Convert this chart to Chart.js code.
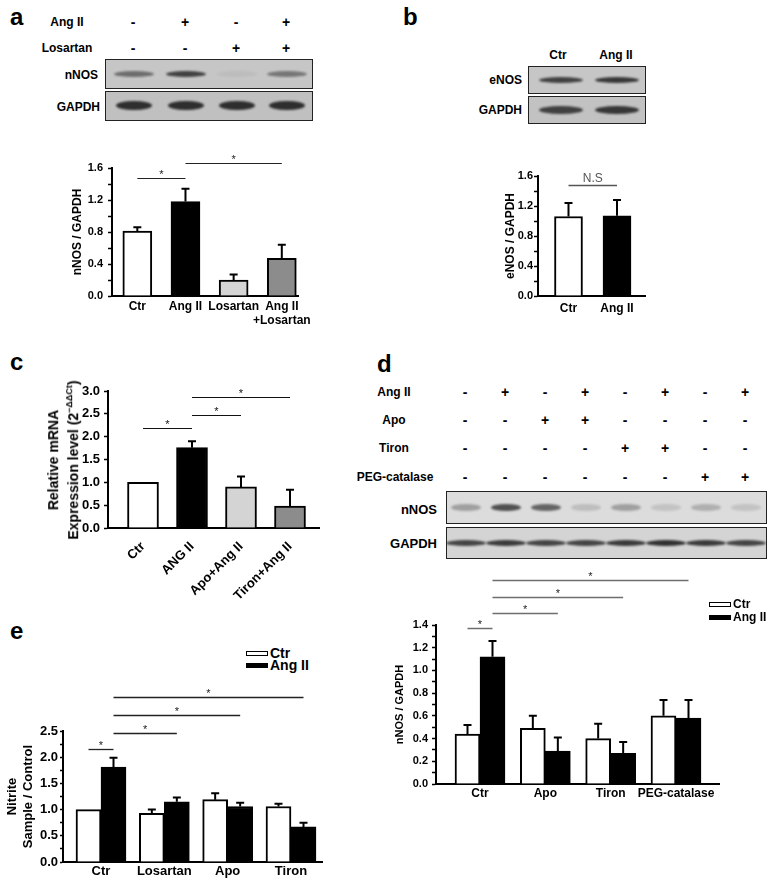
<!DOCTYPE html>
<html>
<head>
<meta charset="utf-8">
<script src="https://cdn.jsdelivr.net/npm/chart.js@4.4.0/dist/chart.umd.min.js"></script>
<style>
  body { margin: 0; width: 776px; height: 886px; position: relative; overflow: hidden; background: #fff;
         font-family: 'Liberation Sans', Arial, sans-serif; font-weight: bold; color: #000; }
  .txt { position: absolute; white-space: nowrap; line-height: 1; }
  .blot { position: absolute; box-sizing: border-box; border: 1.5px solid #222; overflow: hidden; }
  .band { position: absolute; border-radius: 50%; filter: blur(1.3px); }
  canvas { position: absolute; }
  .key { position: absolute; box-sizing: border-box; border: 1.2px solid #000; }
</style>
</head>
<body>
<script>
// ---- panel a ----
const aLabels = ['Ctr', 'Ang II', 'Losartan', ['Ang II', '+Losartan']];
const aValues = [0.81, 1.18, 0.2, 0.47];
const aErrors = [0.86, 1.34, 0.27, 0.64];
const aAngII = ['-', '+', '-', '+'];
const aLosartan = ['-', '-', '+', '+'];
const aNnosBands = [0.5, 0.75, 0.05, 0.45];
const aGapdhBands = [0.85, 0.85, 0.85, 0.85];

// ---- panel b ----
const bLabels = ['Ctr', 'Ang II'];
const bValues = [1.06, 1.07];
const bErrors = [1.24, 1.28];
const bEnosBands = [0.75, 0.8];
const bGapdhBands = [0.75, 0.8];

// ---- panel c ----
const cLabels = ['Ctr', 'ANG II', 'Apo+Ang II', 'Tiron+Ang II'];
const cValues = [1.0, 1.76, 0.9, 0.48];
const cErrors = [null, 1.9, 1.13, 0.84];

// ---- panel d ----
const dGroups = ['Ctr', 'Apo', 'Tiron', 'PEG-catalase'];
const dCtr = [0.44, 0.49, 0.40, 0.60];
const dCtrErr = [0.52, 0.60, 0.53, 0.74];
const dAng = [1.12, 0.29, 0.27, 0.58];
const dAngErr = [1.26, 0.41, 0.37, 0.74];
const dAngII = ['-', '+', '-', '+', '-', '+', '-', '+'];
const dApo = ['-', '-', '+', '+', '-', '-', '-', '-'];
const dTiron = ['-', '-', '-', '-', '+', '+', '-', '-'];
const dPeg = ['-', '-', '-', '-', '-', '-', '+', '+'];
const dNnosBands = [0.3, 0.7, 0.6, 0.15, 0.3, 0.12, 0.22, 0.12];
const dGapdhBands = [0.75, 0.8, 0.75, 0.75, 0.8, 0.85, 0.8, 0.75];

// ---- panel e ----
const eGroups = ['Ctr', 'Losartan', 'Apo', 'Tiron'];
const eCtr = [1.0, 0.93, 1.19, 1.06];
const eCtrErr = [null, 1.0, 1.31, 1.11];
const eAng = [1.81, 1.15, 1.06, 0.67];
const eAngErr = [1.99, 1.23, 1.13, 0.75];

const FONT = "'Liberation Sans', Arial, sans-serif";
Chart.defaults.font.family = FONT;
Chart.defaults.font.weight = 'bold';
Chart.defaults.color = '#000';

// Texto posicionado em px
function label(html, x, y, size, align = 'center', extra = '') {
  const el = document.createElement('div');
  el.className = 'txt';
  el.innerHTML = html;
  const tx = align === 'center' ? '-50%' : align === 'right' ? '-100%' : '0';
  el.style.cssText = `left:${x}px;top:${y}px;font-size:${size}px;transform:translate(${tx},-50%);${extra}`;
  document.body.appendChild(el);
  return el;
}

// Caixa de western blot com bandas
function blot(x, y, w, h, bg, lanes, bands, bw, bh) {
  const el = document.createElement('div');
  el.className = 'blot';
  el.style.cssText = `left:${x}px;top:${y}px;width:${w}px;height:${h}px;background:${bg}`;
  bands.forEach((v, i) => {
    const b = document.createElement('div');
    b.className = 'band';
    b.style.cssText = `left:${lanes[i] - x - bw / 2}px;top:${(h - bh) / 2 - 1.5}px;width:${bw}px;height:${bh}px;background:rgba(20,20,20,${v})`;
    el.appendChild(b);
  });
  document.body.appendChild(el);
}

function signRow(signs, cols, y, size) {
  signs.forEach((s, i) => label(s, cols[i], y, size));
}

// Barras de erro (só para cima)
const errorBars = {
  id: 'errorBars',
  afterDatasetsDraw(chart) {
    const { ctx } = chart;
    const y = chart.scales.y;
    ctx.save();
    ctx.strokeStyle = '#000';
    ctx.lineWidth = 2;
    chart.data.datasets.forEach((ds, di) => {
      chart.getDatasetMeta(di).data.forEach((bar, i) => {
        const e = ds.errors[i];
        if (e == null) return;
        const top = y.getPixelForValue(e);
        ctx.beginPath();
        ctx.moveTo(bar.x, bar.y);
        ctx.lineTo(bar.x, top);
        ctx.moveTo(bar.x - 4, top);
        ctx.lineTo(bar.x + 4, top);
        ctx.stroke();
      });
    });
    ctx.restore();
  }
};

// Linhas de significância entre barras
const brackets = {
  id: 'brackets',
  afterDraw(chart, args, opts) {
    const { ctx } = chart;
    const y = chart.scales.y;
    ctx.save();
    (opts.list || []).forEach(([d1, i1, d2, i2, level, mark]) => {
      const x1 = chart.getDatasetMeta(d1).data[i1].x;
      const x2 = chart.getDatasetMeta(d2).data[i2].x;
      const py = Math.round(y.getPixelForValue(level)) + 0.5;
      ctx.strokeStyle = opts.color;
      ctx.lineWidth = opts.width;
      ctx.beginPath();
      ctx.moveTo(x1, py);
      ctx.lineTo(x2, py);
      ctx.stroke();
      ctx.fillStyle = opts.textColor || opts.color;
      ctx.font = `normal ${opts.size}px ${FONT}`;
      ctx.textAlign = 'center';
      ctx.textBaseline = 'alphabetic';
      ctx.fillText(mark, (x1 + x2) / 2, py - opts.gap);
    });
    ctx.restore();
  }
};

function drawBars(p) {
  const cv = document.createElement('canvas');
  const [bx, by, bw, bh] = p.box;
  cv.width = bw; cv.height = bh;
  cv.style.left = bx + 'px'; cv.style.top = by + 'px';
  document.body.appendChild(cv);
  const [left, top, right, bottom] = p.area;
  const n = p.labels.length;
  const unit = (p.last - p.first) / (n - 1);
  return new Chart(cv, {
    type: 'bar',
    data: {
      datasets: p.series.map(s => ({
        label: s.label,
        data: s.values.map((v, i) => ({ x: i, y: v })),
        errors: s.errors,
        backgroundColor: s.color,
        borderColor: '#000',
        borderWidth: 2,
        barThickness: p.barWidth
      }))
    },
    options: {
      responsive: false,
      animation: false,
      layout: { padding: { left: 0, top: top - by, right: bx + bw - right, bottom: 0 } },
      plugins: {
        legend: { display: false },
        tooltip: { enabled: false },
        brackets: p.brackets
      },
      scales: {
        x: {
          type: 'linear',
          offset: false,
          min: -(p.first - left) / unit,
          max: n - 1 + (right - p.last) / unit,
          afterBuildTicks: s => { s.ticks = p.labels.map((_, i) => ({ value: i })); },
          afterFit: s => { s.height = by + bh - bottom; },
          grid: { display: false, drawTicks: false },
          border: { color: '#000', width: 2 },
          ticks: {
            autoSkip: false,
            maxRotation: p.rotate || 0,
            minRotation: p.rotate || 0,
            padding: p.xPad,
            font: { size: p.xFont, weight: 'bold' },
            callback: v => p.labels[Math.round(v)]
          }
        },
        y: {
          min: 0,
          max: p.yMax,
          afterFit: s => { s.width = left - bx; },
          grid: { drawOnChartArea: false, tickLength: p.tickLen, tickWidth: 1.5, tickColor: '#000' },
          border: { color: '#000', width: 2 },
          ticks: {
            stepSize: p.yStep,
            maxTicksLimit: 100,
            autoSkip: false,
            padding: p.yPad,
            font: { size: p.yFont, weight: 'bold' },
            callback: p.yLabel
          },
          title: p.yTitle
            ? { display: true, text: p.yTitle, font: { size: p.titleFont, weight: 'bold' }, padding: { top: p.titlePad, bottom: 0 } }
            : { display: false }
        }
      }
    },
    plugins: [errorBars, brackets]
  });
}

function legend(series, x, y, gap, size) {
  series.forEach((s, i) => {
    const k = document.createElement('div');
    k.className = 'key';
    k.style.cssText = `left:${x}px;top:${y + i * gap - 2.5}px;width:22px;height:5px;background:${s.color}`;
    document.body.appendChild(k);
    label(s.label, x + 24, y + i * gap, size, 'left');
  });
}

const every = (step) => v => (Math.round(v * 100) % Math.round(step * 100) === 0 ? v.toFixed(1) : '');

// ================= panel a =================
label('a', 10, 17, 24, 'left');
label('Ang II', 67, 22, 12);
label('Losartan', 67, 48, 12);
const aCols = [133, 185, 236, 286];
signRow(aAngII, aCols, 22, 14);
signRow(aLosartan, aCols, 48, 14);
label('nNOS', 98, 75, 12, 'right');
label('GAPDH', 100, 107, 12, 'right');
blot(105, 59, 208, 30, '#c6c6c6', aCols, aNnosBands, 40, 6);
blot(105, 91, 208, 30, '#c0c0c0', aCols, aGapdhBands, 36, 9);

drawBars({
  box: [40, 140, 275, 205], area: [112, 168, 300, 296],
  labels: aLabels, first: 137.5, last: 283, barWidth: 29,
  series: [{ label: 'nNOS', values: aValues, errors: aErrors, color: ['#ffffff', '#000000', '#d4d4d4', '#8c8c8c'] }],
  yMax: 1.6, yStep: 0.2, yLabel: every(0.4), yFont: 11, yPad: 5, tickLen: 4,
  xFont: 12, xPad: 3,
  yTitle: 'nNOS / GAPDH', titleFont: 12, titlePad: 30,
  brackets: { list: [[0, 0, 0, 1, 1.475, '*'], [0, 1, 0, 3, 1.66, '*']], color: '#222', width: 1.2, size: 11, gap: 1 }
});

// ================= panel b =================
label('b', 403, 17, 24, 'left');
const bCols = [560, 616];
label('Ctr', 558, 55, 12);
label('Ang II', 616, 55, 12);
label('eNOS', 522, 80, 12, 'right');
label('GAPDH', 522, 110, 12, 'right');
blot(528, 66, 118, 28, '#c6c6c6', bCols, bEnosBands, 44, 6);
blot(528, 96, 118, 28, '#c2c2c2', bCols, bGapdhBands, 44, 8);

drawBars({
  box: [470, 150, 190, 200], area: [538, 176, 645, 296],
  labels: bLabels, first: 568.5, last: 617, barWidth: 28,
  series: [{ label: 'eNOS', values: bValues, errors: bErrors, color: ['#ffffff', '#000000'] }],
  yMax: 1.6, yStep: 0.2, yLabel: every(0.4), yFont: 11, yPad: 1, tickLen: 4,
  xFont: 12, xPad: 5,
  yTitle: 'eNOS / GAPDH', titleFont: 12, titlePad: 33,
  brackets: { list: [[0, 0, 0, 1, 1.48, 'N.S']], color: '#555', width: 1.5, size: 12, gap: 4 }
});

// ================= panel c =================
label('c', 10, 362, 24, 'left');
label('Relative mRNA<br>Expression level (2<sup style="font-size:9px">\u2212\u0394\u0394Ct</sup>)', 63, 460, 14, 'center',
  'line-height:16px;text-align:center;color:#000;will-change:transform;transform:translate(-50%,-50%) rotate(-90deg);');

drawBars({
  box: [70, 370, 260, 230], area: [108, 391, 319, 528],
  labels: cLabels, first: 143, last: 290, barWidth: 31, rotate: 45,
  series: [{ label: 'mRNA', values: cValues, errors: cErrors, color: ['#ffffff', '#000000', '#d4d4d4', '#8c8c8c'] }],
  yMax: 3.0, yStep: 0.5, yLabel: v => v.toFixed(1), yFont: 13, yPad: 4, tickLen: 4,
  xFont: 13, xPad: 11,
  brackets: { list: [[0, 0, 0, 1, 2.19, '*'], [0, 1, 0, 2, 2.48, '*'], [0, 1, 0, 3, 2.87, '*']], color: '#111', width: 1.2, size: 11, gap: 1 }
});

// ================= panel d =================
label('d', 377, 364, 24, 'left');
const dCols = [465, 505, 545, 585, 625, 665, 705, 745];
label('Ang II', 394, 392, 12);
label('Apo', 394, 420, 12);
label('Tiron', 394, 448, 12);
label('PEG-catalase', 395, 477, 12);
signRow(dAngII, dCols, 392, 14);
signRow(dApo, dCols, 420, 14);
signRow(dTiron, dCols, 448, 14);
signRow(dPeg, dCols, 477, 14);
label('nNOS', 437, 509, 13, 'right');
label('GAPDH', 437, 543, 13, 'right');
blot(446, 491, 321, 33, '#dcdcdc', dCols, dNnosBands, 30, 7);
blot(446, 527, 321, 32, '#d4d4d4', dCols, dGapdhBands, 40, 6);

const dSeries = [
  { label: 'Ctr', values: dCtr, errors: dCtrErr, color: '#ffffff' },
  { label: 'Ang II', values: dAng, errors: dAngErr, color: '#000000' }
];
drawBars({
  box: [380, 560, 350, 245], area: [436, 625, 719, 784],
  labels: dGroups, first: 480, last: 676, barWidth: 25,
  series: dSeries,
  yMax: 1.4, yStep: 0.1, yLabel: every(0.2), yFont: 11, yPad: 4, tickLen: 4,
  xFont: 12, xPad: 2,
  yTitle: 'nNOS / GAPDH', titleFont: 11, titlePad: 13,
  brackets: {
    list: [[0, 0, 1, 0, 1.374, '*'], [1, 0, 1, 1, 1.506, '*'], [1, 0, 1, 2, 1.646, '*'], [1, 0, 1, 3, 1.796, '*']],
    color: '#6e6e6e', textColor: '#222', width: 1.5, size: 11, gap: 1
  }
});
legend(dSeries, 709, 604, 13, 12);

// ================= panel e =================
label('e', 10, 631, 24, 'left');
const eSeries = [
  { label: 'Ctr', values: eCtr, errors: eCtrErr, color: '#ffffff' },
  { label: 'Ang II', values: eAng, errors: eAngErr, color: '#000000' }
];
drawBars({
  box: [0, 680, 335, 205], area: [63, 731, 322, 862],
  labels: eGroups, first: 101, last: 291, barWidth: 25,
  series: eSeries,
  yMax: 2.5, yStep: 0.25, yLabel: every(0.5), yFont: 13, yPad: 2, tickLen: 3,
  xFont: 13, xPad: 2,
  yTitle: ['Nitrite', 'Sample / Control'], titleFont: 13, titlePad: 5,
  brackets: {
    list: [[0, 0, 1, 0, 2.16, '*'], [1, 0, 1, 1, 2.46, '*'], [1, 0, 1, 2, 2.81, '*'], [1, 0, 1, 3, 3.15, '*']],
    color: '#222', width: 1.3, size: 11, gap: 1
  }
});
legend(eSeries, 246, 653, 12, 14);
</script>
</body>
</html>
